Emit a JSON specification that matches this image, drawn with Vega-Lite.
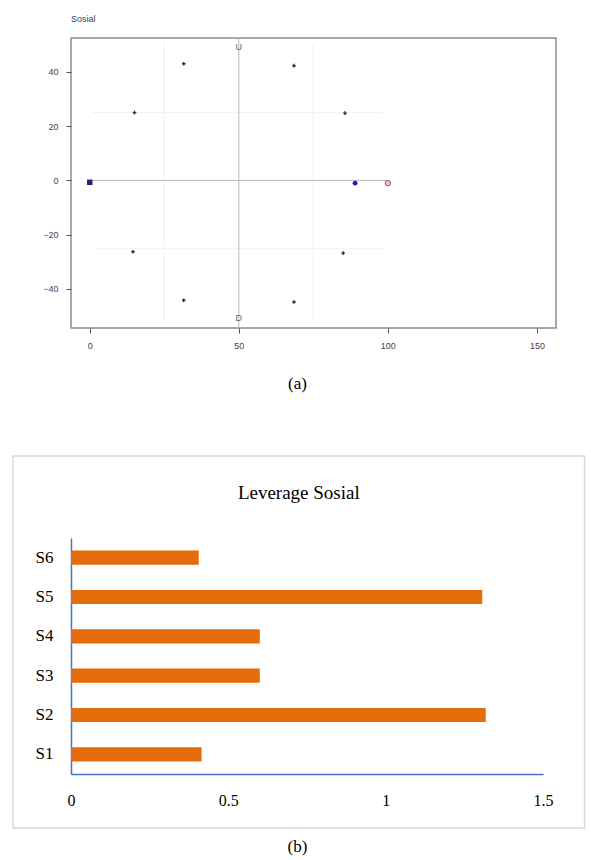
{
  "$schema": "https://vega.github.io/schema/vega-lite/v6.json",
  "background": "white",
  "padding": {"left": 12, "top": 13, "right": 7, "bottom": 7},
  "bounds": "flush",
  "spacing": 210,
  "config": {"view": {"stroke": null}, "axis": {"grid": false}},
  "datasets": {
    "lines": [
      {"x": 25, "y": 50, "x2": 25, "y2": -52, "k": "faint"},
      {"x": 75, "y": 50, "x2": 75, "y2": -52, "k": "faint"},
      {"x": 1, "y": 25, "x2": 98, "y2": 25, "k": "faint"},
      {"x": 1, "y": -25, "x2": 98, "y2": -25, "k": "faint"},
      {"x": 50, "y": 52.5, "x2": 50, "y2": -54.4, "k": "main"},
      {"x": 0, "y": 0, "x2": 100, "y2": 0, "k": "main"}
    ],
    "pts": [
      {"x": 31.5, "y": 43, "k": "attr"},
      {"x": 68.5, "y": 42.3, "k": "attr"},
      {"x": 15, "y": 25, "k": "attr"},
      {"x": 85.6, "y": 24.8, "k": "attr"},
      {"x": 14.5, "y": -26.3, "k": "attr"},
      {"x": 31.5, "y": -44.2, "k": "attr"},
      {"x": 68.5, "y": -44.8, "k": "attr"},
      {"x": 85, "y": -26.8, "k": "attr"},
      {"x": 0, "y": -0.7, "k": "bad"},
      {"x": 89, "y": -1, "k": "sos"},
      {"x": 100, "y": -1, "k": "good"}
    ],
    "labels": [
      {"x": 50, "y": 49, "t": "U"},
      {"x": 50, "y": -50.6, "t": "D"}
    ],
    "bars": [
      {"s": "S1", "x": 0.415},
      {"s": "S2", "x": 1.318},
      {"s": "S3", "x": 0.6},
      {"s": "S4", "x": 0.6},
      {"s": "S5", "x": 1.307},
      {"s": "S6", "x": 0.406}
    ],
    "border": [
      {"x": -0.184, "x2": 1.632, "y": -0.229, "y2": 1.347}
    ],
    "ttl": [
      {"x": 0.724, "y": 1.19, "t": "Leverage Sosial"}
    ]
  },
  "vconcat": [
    {
      "width": 485,
      "height": 290,
      "title": {"text": "Sosial", "anchor": "start", "frame": "group", "font": "Liberation Sans", "fontSize": 9, "fontWeight": "normal", "color": "#444444", "offset": 14},
      "view": {"stroke": "#8c8c8c", "strokeWidth": 1.5},
      "encoding": {
        "x": {
          "field": "x", "type": "quantitative",
          "scale": {"domain": [-6.3, 156.4], "nice": false, "zero": false},
          "axis": {
            "values": [0, 50, 100, 150], "domain": false, "ticks": true, "tickColor": "#555555", "tickSize": 5,
            "labelFont": "Liberation Sans", "labelFontSize": 9, "labelColor": "#444444", "labelPadding": 8, "labelFlush": false,
            "title": "(a)", "titleFont": "Liberation Serif", "titleFontSize": 17, "titleFontWeight": "normal",
            "titleColor": "#000000", "titleX": 226, "titleY": 55, "titleBaseline": "middle"
          }
        },
        "y": {
          "field": "y", "type": "quantitative",
          "scale": {"domain": [-54.4, 52.5], "nice": false, "zero": false},
          "axis": {
            "values": [-40, -20, 0, 20, 40], "domain": false, "ticks": true, "tickColor": "#555555", "tickSize": 5,
            "labelFont": "Liberation Sans", "labelFontSize": 9, "labelColor": "#444444", "labelPadding": 8,
            "title": null
          }
        }
      },
      "layer": [
        {
          "data": {"name": "lines"},
          "mark": {"type": "rule", "strokeWidth": 1},
          "encoding": {
            "x2": {"field": "x2"},
            "y2": {"field": "y2"},
            "color": {"field": "k", "type": "nominal", "scale": {"domain": ["faint", "main"], "range": ["#f0f0f0", "#b8b8c2"]}, "legend": null}
          }
        },
        {
          "data": {"name": "pts"},
          "transform": [{"filter": "datum.k === 'attr'"}],
          "mark": {"type": "point", "shape": "cross", "filled": true, "size": 13, "color": "#333333", "opacity": 1}
        },
        {
          "data": {"name": "pts"},
          "transform": [{"filter": "datum.k === 'bad'"}],
          "mark": {"type": "square", "filled": true, "size": 30, "color": "#22227a", "opacity": 1}
        },
        {
          "data": {"name": "pts"},
          "transform": [{"filter": "datum.k === 'sos'"}],
          "mark": {"type": "circle", "size": 24, "color": "#1f1fc0", "opacity": 1}
        },
        {
          "data": {"name": "pts"},
          "transform": [{"filter": "datum.k === 'good'"}],
          "mark": {"type": "point", "shape": "circle", "size": 30, "fill": "#f0c0c0", "stroke": "#8a6a6a", "strokeWidth": 1, "opacity": 1}
        },
        {
          "data": {"name": "labels"},
          "mark": {"type": "text", "font": "Liberation Sans", "fontSize": 9, "color": "#666666"},
          "encoding": {"text": {"field": "t"}}
        }
      ]
    },
    {
      "width": 472,
      "height": 236,
      "encoding": {
        "x": {
          "field": "x", "type": "quantitative",
          "scale": {"domain": [0, 1.5], "nice": false, "zero": false},
          "axis": {
            "values": [0, 0.5, 1, 1.5], "format": "~g", "domain": true, "domainColor": "#4472C4", "domainWidth": 1.5, "ticks": false,
            "labelFont": "Liberation Serif", "labelFontSize": 16, "labelColor": "#000000", "labelPadding": 18, "labelFlush": false,
            "title": "(b)", "titleFont": "Liberation Serif", "titleFontSize": 17, "titleFontWeight": "normal",
            "titleColor": "#000000", "titleX": 226, "titleY": 72, "titleBaseline": "middle"
          }
        }
      },
      "layer": [
        {
          "data": {"name": "border"},
          "mark": {"type": "rect", "fill": "transparent", "stroke": "#d9d9d9", "strokeWidth": 1.5, "clip": false},
          "encoding": {
            "x2": {"field": "x2"},
            "y": {"field": "y", "type": "quantitative", "scale": {"domain": [0, 1], "nice": false, "zero": false}, "axis": null},
            "y2": {"field": "y2"}
          }
        },
        {
          "data": {"name": "ttl"},
          "mark": {"type": "text", "font": "Liberation Serif", "fontSize": 19, "color": "#000000", "baseline": "middle", "align": "center", "clip": false},
          "encoding": {
            "y": {"field": "y", "type": "quantitative", "scale": {"domain": [0, 1], "nice": false, "zero": false}, "axis": null},
            "text": {"field": "t"}
          }
        },
        {
          "data": {"name": "bars"},
          "mark": {"type": "bar", "color": "#E46C0A"},
          "encoding": {
            "y": {
              "field": "s", "type": "nominal", "sort": "descending",
              "scale": {"paddingInner": 0.64, "paddingOuter": 0.32},
              "axis": {
                "domain": true, "domainColor": "#4472C4", "domainWidth": 1.5, "ticks": false,
                "labelFont": "Liberation Serif", "labelFontSize": 17, "labelColor": "#000000", "labelPadding": 18,
                "title": null
              }
            }
          }
        }
      ],
      "resolve": {"scale": {"y": "independent"}, "axis": {"y": "independent"}}
    }
  ]
}
